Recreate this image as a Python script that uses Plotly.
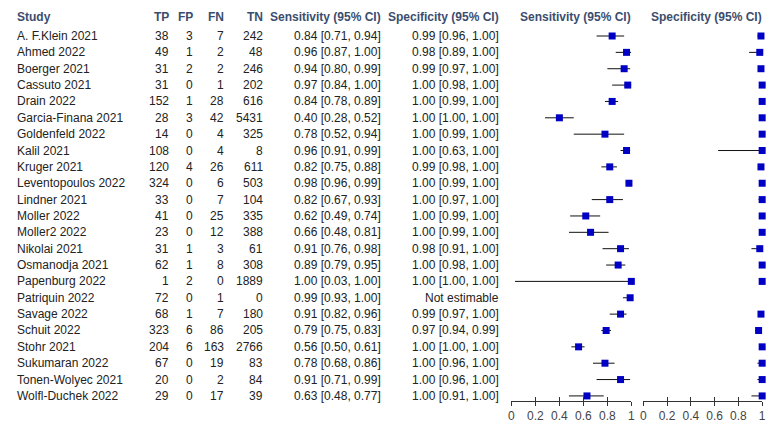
import plotly.graph_objects as go

studies = ["A. F.Klein 2021", "Ahmed 2022", "Boerger 2021", "Cassuto 2021", "Drain 2022",
           "Garcia-Finana 2021", "Goldenfeld 2022", "Kalil 2021", "Kruger 2021",
           "Leventopoulos 2022", "Lindner 2021", "Moller 2022", "Moller2 2022", "Nikolai 2021",
           "Osmanodja 2021", "Papenburg 2022", "Patriquin 2022", "Savage 2022", "Schuit 2022",
           "Stohr 2021", "Sukumaran 2022", "Tonen-Wolyec 2021", "Wolfl-Duchek 2022"]
tp = [38, 49, 31, 31, 152, 28, 14, 108, 120, 324, 33, 41, 23, 31, 62, 1, 72, 68, 323, 204, 67, 20, 29]
fp = [3, 1, 2, 0, 1, 3, 0, 0, 4, 0, 0, 0, 0, 1, 1, 2, 0, 1, 6, 6, 0, 0, 0]
fn = [7, 2, 2, 1, 28, 42, 4, 4, 26, 6, 7, 25, 12, 3, 8, 0, 1, 7, 86, 163, 19, 2, 17]
tn = [242, 48, 246, 202, 616, 5431, 325, 8, 611, 503, 104, 335, 388, 61, 308, 1889, 0, 180, 205, 2766, 83, 84, 39]

sens = [0.84, 0.96, 0.94, 0.97, 0.84, 0.40, 0.78, 0.96, 0.82, 0.98, 0.82, 0.62, 0.66, 0.91, 0.89, 1.00, 0.99, 0.91, 0.79, 0.56, 0.78, 0.91, 0.63]
sens_lo = [0.71, 0.87, 0.80, 0.84, 0.78, 0.28, 0.52, 0.91, 0.75, 0.96, 0.67, 0.49, 0.48, 0.76, 0.79, 0.03, 0.93, 0.82, 0.75, 0.50, 0.68, 0.71, 0.48]
sens_hi = [0.94, 1.00, 0.99, 1.00, 0.89, 0.52, 0.94, 0.99, 0.88, 0.99, 0.93, 0.74, 0.81, 0.98, 0.95, 1.00, 1.00, 0.96, 0.83, 0.61, 0.86, 0.99, 0.77]

spec = [0.99, 0.98, 0.99, 1.00, 1.00, 1.00, 1.00, 1.00, 0.99, 1.00, 1.00, 1.00, 1.00, 0.98, 1.00, 1.00, None, 0.99, 0.97, 1.00, 1.00, 1.00, 1.00]
spec_lo = [0.96, 0.89, 0.97, 0.98, 0.99, 1.00, 0.99, 0.63, 0.98, 0.99, 0.97, 0.99, 0.99, 0.91, 0.98, 1.00, None, 0.97, 0.94, 1.00, 0.96, 0.96, 0.91]
spec_hi = [1.00, 1.00, 1.00, 1.00, 1.00, 1.00, 1.00, 1.00, 1.00, 1.00, 1.00, 1.00, 1.00, 1.00, 1.00, 1.00, None, 1.00, 0.99, 1.00, 1.00, 1.00, 1.00]

tick_vals = [0, 0.2, 0.4, 0.6, 0.8, 1]
tick_text = ["0", "0.2", "0.4", "0.6", "0.8", "1"]

W, H = 784, 429
FONT = "Liberation Sans, Arial, sans-serif"
TXT = "#222222"
HDR = "#3B4D6E"
BLUE = "#0000C4"

rows = list(range(len(studies)))
HEADER_ROW = -1.16


def px(x):
    return x / W


def fmt(v, lo, hi):
    if v is None:
        return "Not estimable"
    return f"{v:.2f} [{lo:.2f}, {hi:.2f}]"


fig = go.Figure()


def forest(v, lo, hi, xa):
    xs, ys, ep, em = [], [], [], []
    for i, (a, b, c) in enumerate(zip(v, lo, hi)):
        if a is None:
            continue
        xs.append(a)
        ys.append(i)
        ep.append(c - a)
        em.append(a - b)
    fig.add_trace(go.Scatter(
        x=xs, y=ys, xaxis=xa, yaxis="y", mode="markers",
        marker=dict(symbol="square", size=7, color=BLUE, line=dict(width=0)),
        error_x=dict(type="data", symmetric=False, array=ep, arrayminus=em,
                     color="#111111", thickness=1, width=0),
        cliponaxis=False, showlegend=False, hoverinfo="skip"))


forest(sens, sens_lo, sens_hi, "x")
forest(spec, spec_lo, spec_hi, "x2")
# helper traces for the inward half of the crossing ticks
fig.add_trace(go.Scatter(x=[None], y=[None], xaxis="x3", yaxis="y", showlegend=False))
fig.add_trace(go.Scatter(x=[None], y=[None], xaxis="x4", yaxis="y", showlegend=False))

ann = []
hdr_font = dict(family=FONT, size=12, color=HDR)


def header(text, x, anchor):
    ann.append(dict(text=f"<b>{text}</b>", x=px(x), y=HEADER_ROW, xref="paper", yref="y",
                    xanchor=anchor, yanchor="middle", showarrow=False, font=hdr_font,
                    borderpad=0))


header("Study", 13, "left")
header("TP", 168, "right")
header("FP", 193, "right")
header("FN", 224, "right")
header("TN", 263, "right")
header("Sensitivity (95% CI)", 382, "right")
header("Specificity (95% CI)", 501, "right")
header("Sensitivity (95% CI)", 521, "left")
header("Specificity (95% CI)", 653, "left")

body_font = dict(family=FONT, size=12, color=TXT)
cols = [
    (studies, 13, "left"),
    ([str(v) for v in tp], 168, "right"),
    ([str(v) for v in fp], 193, "right"),
    ([str(v) for v in fn], 224, "right"),
    ([str(v) for v in tn], 263, "right"),
    ([fmt(a, b, c) for a, b, c in zip(sens, sens_lo, sens_hi)], 382, "right"),
    ([fmt(a, b, c) for a, b, c in zip(spec, spec_lo, spec_hi)], 501, "right"),
]
for texts, x, anchor in cols:
    for i, t in zip(rows, texts):
        ann.append(dict(text=t, x=px(x), y=i, xref="paper", yref="y",
                        xanchor=anchor, yanchor="middle", showarrow=False, font=body_font,
                        borderpad=0))

AX_BOTTOM = 401
y0 = -36 / 16.36
y1 = (AX_BOTTOM - 36) / 16.36

common_x = dict(range=[0, 1], tickvals=tick_vals, showgrid=False, zeroline=False,
                anchor="y", fixedrange=True)
main_x = dict(common_x, ticktext=tick_text, ticks="outside", ticklen=4, tickwidth=1,
              tickcolor="#333333", showline=True, linecolor="#333333", linewidth=1,
              tickfont=dict(family=FONT, size=12, color="#444444"))
in_x = dict(common_x, ticks="inside", ticklen=4, tickwidth=1, tickcolor="#333333",
            showticklabels=False, showline=False, side="bottom")

fig.update_layout(
    width=W, height=H,
    margin=dict(l=0, r=0, t=0, b=0),
    paper_bgcolor="white", plot_bgcolor="white",
    xaxis=dict(main_x, domain=[px(513), px(634)]),
    xaxis2=dict(main_x, domain=[px(646), px(766)]),
    xaxis3=dict(in_x, overlaying="x"),
    xaxis4=dict(in_x, overlaying="x2"),
    yaxis=dict(domain=[1 - AX_BOTTOM / H, 1], range=[y1, y0], visible=False, fixedrange=True),
    annotations=ann,
    showlegend=False,
)

fig.write_html("out.html",
               config={"displayModeBar": False, "staticPlot": True},
               post_script="document.body.style.margin='0';document.body.style.overflow='hidden';")
